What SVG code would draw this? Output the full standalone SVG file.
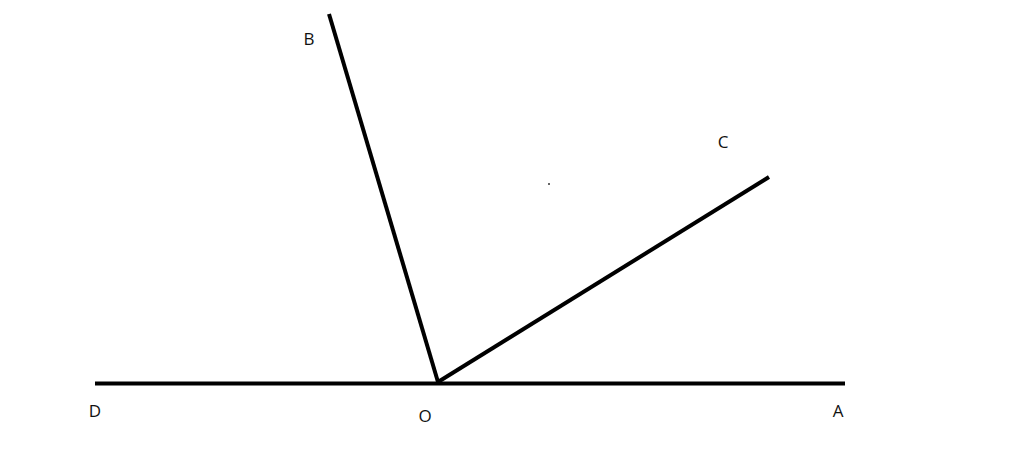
<svg xmlns="http://www.w3.org/2000/svg" width="1024" height="450" viewBox="0 0 1024 450">
<style>
.ln{stroke:#000;stroke-width:4;stroke-linecap:butt;fill:none}
.lb{font-family:"Open Sans","Liberation Sans",sans-serif;font-size:17px;fill:#111;text-anchor:middle}
</style>
<rect width="1024" height="450" fill="#fff"/>
<g id="connectors">
<line class="ln" x1="95" y1="383.5" x2="845" y2="383.5"/>
<line class="ln" x1="438" y1="382" x2="329" y2="14"/>
<line class="ln" x1="438" y1="382" x2="769" y2="177"/>
<rect x="548" y="183" width="2" height="2" fill="#666"/>
</g>
<g id="B"><text class="lb" x="309" y="45">B</text></g>
<g id="C"><text class="lb" x="723" y="148">C</text></g>
<g id="D"><text class="lb" x="95" y="417">D</text></g>
<g id="O"><text class="lb" x="425" y="422">O</text></g>
<g id="A"><text class="lb" x="838" y="417">A</text></g>
</svg>
